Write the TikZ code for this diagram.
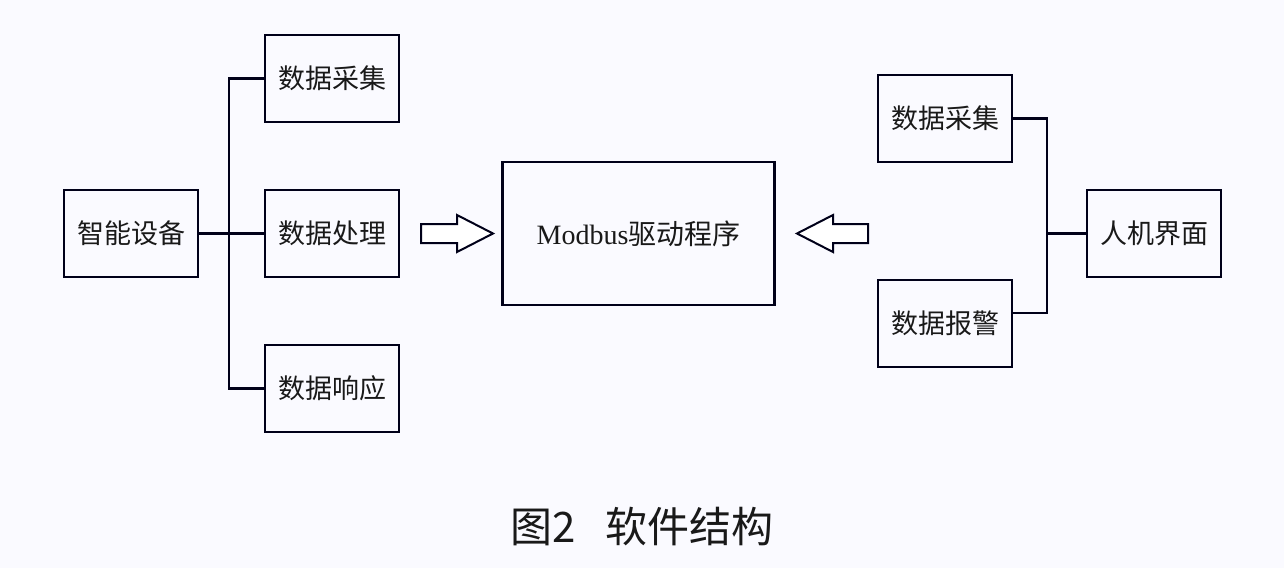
\documentclass[tikz,border=0pt]{standalone}
\usepackage{fontspec}
\setmainfont{Liberation Serif}
\newfontfamily\cjk{Noto Sans CJK SC}
\begin{document}
\begin{tikzpicture}[x=1pt,y=-1pt,
  box/.style={draw=black!90!blue, line width=2.3pt, minimum width=134pt, minimum height=87pt, inner sep=0pt, font=\cjk\fontsize{27}{32}\selectfont, text=black!90},
  conn/.style={draw=black!90!blue, line width=2.3pt},
  hollow/.style={draw=black!90!blue, line width=2pt, fill=white, line join=miter}]
\useasboundingbox (0,0) rectangle (1284,568);
\fill[white!98!blue] (0,0) rectangle (1284,568);
\node[box] (dev) at (131,233.5) {智能设备};
\node[box] (acq) at (332,78.5) {数据采集};
\node[box] (proc) at (332,233.5) {数据处理};
\node[box] (resp) at (332,388.5) {数据响应};
\node[box, minimum width=272pt, minimum height=143pt, font=\fontsize{28}{32}\selectfont] (drv) at (638.5,233.5) {Modbus{\cjk 驱动程序}};
\node[box] (racq) at (945,118.5) {数据采集};
\node[box] (alarm) at (945,323.5) {数据报警};
\node[box] (hmi) at (1154,233.5) {人机界面};
\coordinate (lj) at (229,233.5);
\coordinate (rj) at (1047,233.5);
\draw[conn] (dev.east) -- (lj);
\draw[conn] (lj) -- (proc.west);
\draw[conn] (acq.west) -| (lj) |- (resp.west);
\draw[conn] (racq.east) -| (rj);
\draw[conn] (alarm.east |- 0,313) -| (rj);
\draw[conn] (rj) -- (hmi.west);
% hollow arrows
\draw[hollow] (421,224) -- (457,224) -- (457,215) -- (493,233.5) -- (457,252) -- (457,243) -- (421,243) -- cycle;
\draw[hollow] (868,224) -- (833,224) -- (833,215) -- (797,233.5) -- (833,252) -- (833,243) -- (868,243) -- cycle;
\node[font=\cjk\fontsize{42}{46}\selectfont, text=black!90] (cap) at (642,527) {图2\hspace{0.7em}软件结构};
\end{tikzpicture}
\end{document}
